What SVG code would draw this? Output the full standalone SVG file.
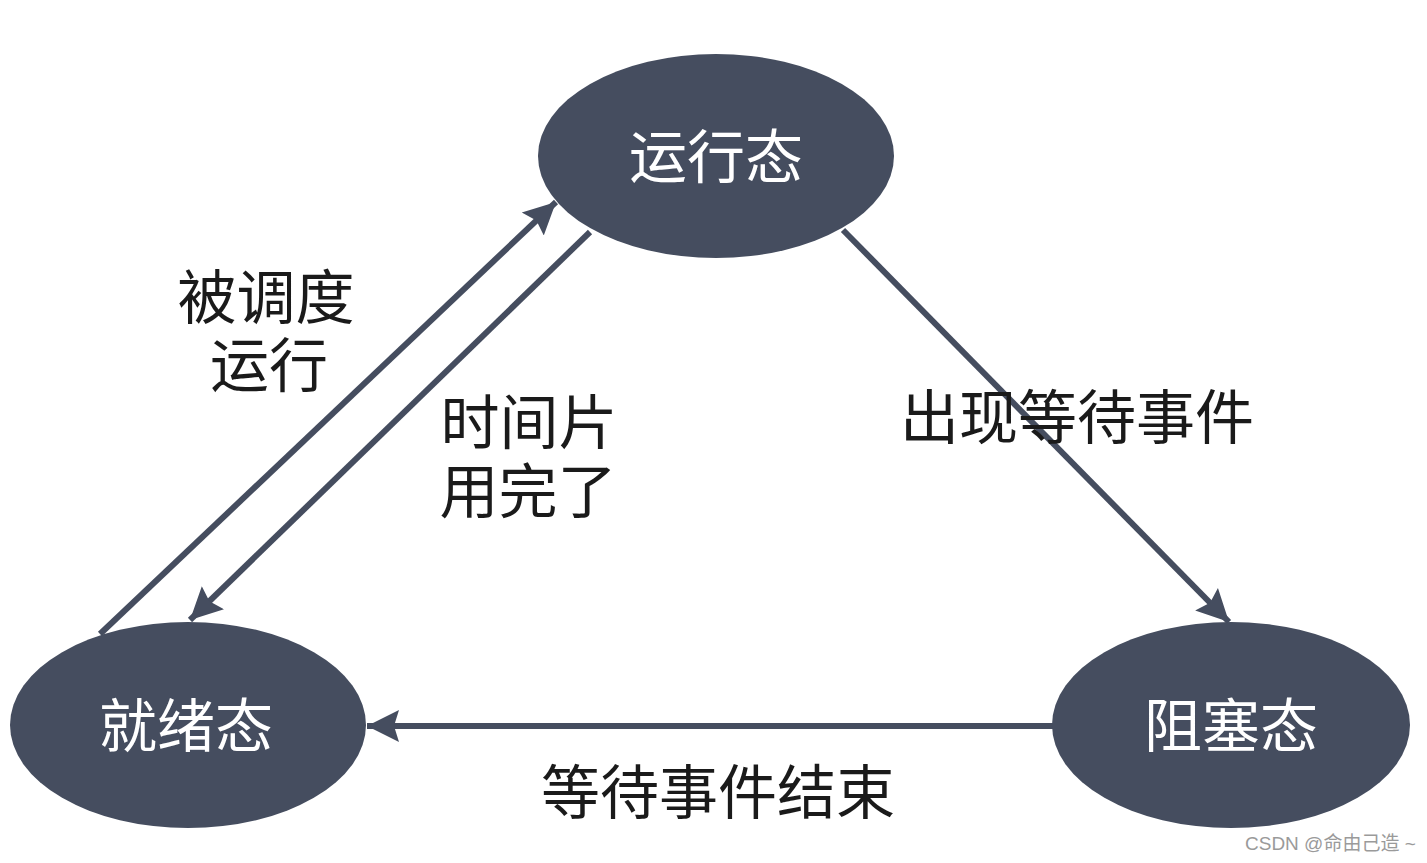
<svg xmlns="http://www.w3.org/2000/svg" width="1427" height="863" viewBox="0 0 1427 863">
<defs>
<style>
.node{fill:#454d5f}
.nt{font-family:"Noto Sans CJK SC","Noto Sans",sans-serif;font-size:58px;fill:#ffffff;text-anchor:middle;dominant-baseline:central}
.lb{font-family:"Noto Sans CJK SC","Noto Sans",sans-serif;font-size:59px;fill:#1a1a1a;text-anchor:middle;dominant-baseline:central}
.edge{stroke:#454d5f;stroke-width:6;fill:none;marker-end:url(#ah)}
.wm{font-family:"Liberation Sans","Noto Sans CJK SC",sans-serif;font-size:19px;fill:#9a9a9a}
</style>
<marker id="ah" markerUnits="userSpaceOnUse" markerWidth="36" markerHeight="36" refX="32" refY="17" orient="auto">
<path d="M0,1 L32,17 L0,33 L5,17 Z" fill="#454d5f"/>
</marker>
</defs>
<rect width="1427" height="863" fill="#ffffff"/>
<g id="connectors">
<line class="edge" x1="100" y1="634" x2="556" y2="202"/>
<line class="edge" x1="590" y1="232" x2="190" y2="620"/>
<line class="edge" x1="843" y1="230" x2="1229" y2="622"/>
<line class="edge" x1="1053" y1="726" x2="367" y2="726"/>
</g>
<g id="running">
<ellipse class="node" cx="716" cy="156" rx="178" ry="102"/>
<text class="nt" x="716" y="153">运行态</text>
</g>
<g id="ready">
<ellipse class="node" cx="188" cy="725" rx="178" ry="103"/>
<text class="nt" x="186" y="722">就绪态</text>
</g>
<g id="blocked">
<ellipse class="node" cx="1231" cy="725" rx="179" ry="103"/>
<text class="nt" x="1231" y="722">阻塞态</text>
</g>
<g id="labels">
<text class="lb" x="266" y="293">被调度</text>
<text class="lb" x="269" y="361">运行</text>
<text class="lb" x="529" y="418">时间片</text>
<text class="lb" x="528" y="487">用完了</text>
<text class="lb" x="1077" y="413">出现等待事件</text>
<text class="lb" x="718" y="788">等待事件结束</text>
</g>
<text class="wm" x="1245" y="850">CSDN @命由己造 ~</text>
</svg>
